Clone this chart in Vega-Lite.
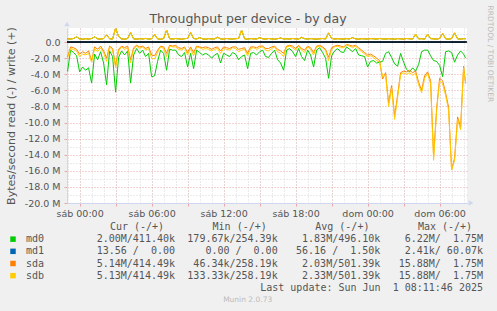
{
  "$schema": "https://vega.github.io/schema/vega-lite/v6.json",
  "width": 400,
  "height": 175,
  "autosize": {"type": "none"},
  "padding": {"left": 67, "top": 28, "right": 30, "bottom": 108},
  "background": "#F0F0F0",
  "title": {"text": "Throughput per device - by day", "font": "DejaVu Sans", "fontSize": 12.5, "fontWeight": "normal", "color": "#555555", "anchor": "middle", "frame": "group", "dx": -19, "dy": 35, "offset": 9, "baseline": "middle"},
  "config": {"view": {"stroke": null, "fill": "#FFFFFF"}},
  "datasets": {
    "perf": [
      {"t":"2025-05-30T22:45:00Z","md0r":-3.9,"md0w":0.42,"md1r":0,"md1w":0,"sdar":-1.9,"sdaw":0.42,"sdbr":-2.1,"sdbw":0.42},
      {"t":"2025-05-30T23:00:00Z","md0r":-3.6,"md0w":0.40,"md1r":0,"md1w":0,"sdar":-1.8,"sdaw":0.40,"sdbr":-2.0,"sdbw":0.40},
      {"t":"2025-05-30T23:15:00Z","md0r":-1.0,"md0w":0.38,"md1r":0,"md1w":0,"sdar":-0.6,"sdaw":0.38,"sdbr":-0.8,"sdbw":0.38},
      {"t":"2025-05-30T23:30:00Z","md0r":-1.3,"md0w":0.45,"md1r":0,"md1w":0,"sdar":-0.7,"sdaw":0.45,"sdbr":-0.9,"sdbw":0.45},
      {"t":"2025-05-30T23:45:00Z","md0r":-1.7,"md0w":0.64,"md1r":0,"md1w":0,"sdar":-0.9,"sdaw":0.66,"sdbr":-1.1,"sdbw":0.66},
      {"t":"2025-05-31T00:00:00Z","md0r":-3.7,"md0w":0.40,"md1r":0,"md1w":0,"sdar":-1.5,"sdaw":0.40,"sdbr":-1.8,"sdbw":0.40},
      {"t":"2025-05-31T00:15:00Z","md0r":-3.1,"md0w":0.36,"md1r":0,"md1w":0,"sdar":-1.2,"sdaw":0.36,"sdbr":-1.5,"sdbw":0.36},
      {"t":"2025-05-31T00:30:00Z","md0r":-3.5,"md0w":0.42,"md1r":0,"md1w":0,"sdar":-1.4,"sdaw":0.42,"sdbr":-1.6,"sdbw":0.42},
      {"t":"2025-05-31T00:45:00Z","md0r":-3.2,"md0w":0.38,"md1r":0,"md1w":0,"sdar":-1.1,"sdaw":0.38,"sdbr":-1.4,"sdbw":0.38},
      {"t":"2025-05-31T01:00:00Z","md0r":-5.1,"md0w":0.44,"md1r":0,"md1w":0,"sdar":-2.3,"sdaw":0.44,"sdbr":-2.5,"sdbw":0.44},
      {"t":"2025-05-31T01:15:00Z","md0r":-1.5,"md0w":0.64,"md1r":0,"md1w":0,"sdar":-0.6,"sdaw":0.66,"sdbr":-0.8,"sdbw":0.66},
      {"t":"2025-05-31T01:30:00Z","md0r":-2.2,"md0w":0.40,"md1r":0,"md1w":0,"sdar":-0.9,"sdaw":0.40,"sdbr":-1.2,"sdbw":0.40},
      {"t":"2025-05-31T01:45:00Z","md0r":-1.2,"md0w":0.37,"md1r":0,"md1w":0,"sdar":-0.5,"sdaw":0.37,"sdbr":-0.7,"sdbw":0.37},
      {"t":"2025-05-31T02:00:00Z","md0r":-2.6,"md0w":0.43,"md1r":0,"md1w":0,"sdar":-1.1,"sdaw":0.43,"sdbr":-1.3,"sdbw":0.43},
      {"t":"2025-05-31T02:15:00Z","md0r":-5.3,"md0w":0.88,"md1r":0,"md1w":0,"sdar":-2.0,"sdaw":0.90,"sdbr":-2.4,"sdbw":0.90},
      {"t":"2025-05-31T02:30:00Z","md0r":-1.1,"md0w":0.41,"md1r":0,"md1w":0,"sdar":-0.5,"sdaw":0.41,"sdbr":-0.6,"sdbw":0.41},
      {"t":"2025-05-31T02:45:00Z","md0r":-1.8,"md0w":0.38,"md1r":0,"md1w":0,"sdar":-0.8,"sdaw":0.38,"sdbr":-1.0,"sdbw":0.38},
      {"t":"2025-05-31T03:00:00Z","md0r":-6.22,"md0w":1.72,"md1r":0,"md1w":0.06,"sdar":-2.9,"sdaw":1.75,"sdbr":-3.2,"sdbw":1.75},
      {"t":"2025-05-31T03:15:00Z","md0r":-1.9,"md0w":0.70,"md1r":0,"md1w":0,"sdar":-0.9,"sdaw":0.70,"sdbr":-1.1,"sdbw":0.70},
      {"t":"2025-05-31T03:30:00Z","md0r":-1.1,"md0w":0.40,"md1r":0,"md1w":0,"sdar":-0.5,"sdaw":0.40,"sdbr":-0.6,"sdbw":0.40},
      {"t":"2025-05-31T03:45:00Z","md0r":-1.6,"md0w":0.36,"md1r":0,"md1w":0,"sdar":-0.7,"sdaw":0.36,"sdbr":-0.9,"sdbw":0.36},
      {"t":"2025-05-31T04:00:00Z","md0r":-1.1,"md0w":0.44,"md1r":0,"md1w":0,"sdar":-0.5,"sdaw":0.44,"sdbr":-0.7,"sdbw":0.44},
      {"t":"2025-05-31T04:15:00Z","md0r":-5.1,"md0w":1.18,"md1r":0,"md1w":0,"sdar":-2.2,"sdaw":1.20,"sdbr":-2.6,"sdbw":1.20},
      {"t":"2025-05-31T04:30:00Z","md0r":-1.6,"md0w":0.40,"md1r":0,"md1w":0,"sdar":-0.7,"sdaw":0.40,"sdbr":-0.9,"sdbw":0.40},
      {"t":"2025-05-31T04:45:00Z","md0r":-0.8,"md0w":0.37,"md1r":0,"md1w":0,"sdar":-0.4,"sdaw":0.37,"sdbr":-0.5,"sdbw":0.37},
      {"t":"2025-05-31T05:00:00Z","md0r":-1.4,"md0w":0.42,"md1r":0,"md1w":0,"sdar":-0.6,"sdaw":0.42,"sdbr":-0.8,"sdbw":0.42},
      {"t":"2025-05-31T05:15:00Z","md0r":-1.0,"md0w":0.39,"md1r":0,"md1w":0,"sdar":-0.5,"sdaw":0.39,"sdbr":-0.6,"sdbw":0.39},
      {"t":"2025-05-31T05:30:00Z","md0r":-1.8,"md0w":0.45,"md1r":0,"md1w":0,"sdar":-0.8,"sdaw":0.45,"sdbr":-1.0,"sdbw":0.45},
      {"t":"2025-05-31T05:45:00Z","md0r":-1.4,"md0w":0.38,"md1r":0,"md1w":0,"sdar":-0.6,"sdaw":0.38,"sdbr":-0.8,"sdbw":0.38},
      {"t":"2025-05-31T06:00:00Z","md0r":-4.3,"md0w":0.41,"md1r":0,"md1w":0,"sdar":-1.6,"sdaw":0.41,"sdbr":-2.0,"sdbw":0.41},
      {"t":"2025-05-31T06:15:00Z","md0r":-4.2,"md0w":0.93,"md1r":0,"md1w":0,"sdar":-1.7,"sdaw":0.95,"sdbr":-2.1,"sdbw":0.95},
      {"t":"2025-05-31T06:30:00Z","md0r":-2.4,"md0w":0.40,"md1r":0,"md1w":0,"sdar":-1.0,"sdaw":0.40,"sdbr":-1.3,"sdbw":0.40},
      {"t":"2025-05-31T06:45:00Z","md0r":-1.0,"md0w":0.36,"md1r":0,"md1w":0,"sdar":-0.5,"sdaw":0.36,"sdbr":-0.6,"sdbw":0.36},
      {"t":"2025-05-31T07:00:00Z","md0r":-1.4,"md0w":0.43,"md1r":0,"md1w":0,"sdar":-0.6,"sdaw":0.43,"sdbr":-0.8,"sdbw":0.43},
      {"t":"2025-05-31T07:15:00Z","md0r":-3.5,"md0w":1.48,"md1r":0,"md1w":0,"sdar":-1.4,"sdaw":1.50,"sdbr":-1.8,"sdbw":1.50},
      {"t":"2025-05-31T07:30:00Z","md0r":-0.9,"md0w":0.42,"md1r":0,"md1w":0,"sdar":-0.4,"sdaw":0.42,"sdbr":-0.5,"sdbw":0.42},
      {"t":"2025-05-31T07:45:00Z","md0r":-1.0,"md0w":0.38,"md1r":0,"md1w":0,"sdar":-0.5,"sdaw":0.38,"sdbr":-0.6,"sdbw":0.38},
      {"t":"2025-05-31T08:00:00Z","md0r":-1.0,"md0w":0.44,"md1r":0,"md1w":0,"sdar":-0.4,"sdaw":0.44,"sdbr":-0.6,"sdbw":0.44},
      {"t":"2025-05-31T08:15:00Z","md0r":-1.6,"md0w":0.40,"md1r":0,"md1w":0,"sdar":-0.7,"sdaw":0.40,"sdbr":-0.9,"sdbw":0.40},
      {"t":"2025-05-31T08:30:00Z","md0r":-1.8,"md0w":0.37,"md1r":0,"md1w":0,"sdar":-0.8,"sdaw":0.37,"sdbr":-1.0,"sdbw":0.37},
      {"t":"2025-05-31T08:45:00Z","md0r":-1.3,"md0w":0.42,"md1r":0,"md1w":0,"sdar":-0.6,"sdaw":0.42,"sdbr":-0.7,"sdbw":0.42},
      {"t":"2025-05-31T09:00:00Z","md0r":-3.1,"md0w":0.46,"md1r":0,"md1w":0,"sdar":-1.3,"sdaw":0.46,"sdbr":-1.6,"sdbw":0.46},
      {"t":"2025-05-31T09:15:00Z","md0r":-1.4,"md0w":1.18,"md1r":0,"md1w":0,"sdar":-0.6,"sdaw":1.20,"sdbr":-0.8,"sdbw":1.20},
      {"t":"2025-05-31T09:30:00Z","md0r":-3.3,"md0w":0.45,"md1r":0,"md1w":0,"sdar":-1.3,"sdaw":0.45,"sdbr":-1.7,"sdbw":0.45},
      {"t":"2025-05-31T09:45:00Z","md0r":-1.0,"md0w":0.38,"md1r":0,"md1w":0,"sdar":-0.5,"sdaw":0.38,"sdbr":-0.6,"sdbw":0.38},
      {"t":"2025-05-31T10:00:00Z","md0r":-1.3,"md0w":0.55,"md1r":0,"md1w":0,"sdar":-0.6,"sdaw":0.55,"sdbr":-0.7,"sdbw":0.55},
      {"t":"2025-05-31T10:15:00Z","md0r":-1.6,"md0w":0.40,"md1r":0,"md1w":0,"sdar":-0.7,"sdaw":0.40,"sdbr":-0.9,"sdbw":0.40},
      {"t":"2025-05-31T10:30:00Z","md0r":-1.4,"md0w":0.36,"md1r":0,"md1w":0,"sdar":-0.6,"sdaw":0.36,"sdbr":-0.8,"sdbw":0.36},
      {"t":"2025-05-31T10:45:00Z","md0r":-1.6,"md0w":0.43,"md1r":0,"md1w":0,"sdar":-0.7,"sdaw":0.43,"sdbr":-0.9,"sdbw":0.43},
      {"t":"2025-05-31T11:00:00Z","md0r":-2.0,"md0w":0.39,"md1r":0,"md1w":0,"sdar":-0.9,"sdaw":0.39,"sdbr":-1.1,"sdbw":0.39},
      {"t":"2025-05-31T11:15:00Z","md0r":-1.6,"md0w":0.41,"md1r":0,"md1w":0,"sdar":-0.7,"sdaw":0.41,"sdbr":-0.9,"sdbw":0.41},
      {"t":"2025-05-31T11:30:00Z","md0r":-1.4,"md0w":0.60,"md1r":0,"md1w":0,"sdar":-0.6,"sdaw":0.60,"sdbr":-0.8,"sdbw":0.60},
      {"t":"2025-05-31T11:45:00Z","md0r":-2.6,"md0w":0.40,"md1r":0,"md1w":0,"sdar":-1.1,"sdaw":0.40,"sdbr":-1.4,"sdbw":0.40},
      {"t":"2025-05-31T12:00:00Z","md0r":-1.4,"md0w":0.37,"md1r":0,"md1w":0,"sdar":-0.6,"sdaw":0.37,"sdbr":-0.8,"sdbw":0.37},
      {"t":"2025-05-31T12:15:00Z","md0r":-1.6,"md0w":0.44,"md1r":0,"md1w":0,"sdar":-0.7,"sdaw":0.44,"sdbr":-0.9,"sdbw":0.44},
      {"t":"2025-05-31T12:30:00Z","md0r":-1.8,"md0w":0.40,"md1r":0,"md1w":0,"sdar":-0.8,"sdaw":0.40,"sdbr":-1.0,"sdbw":0.40},
      {"t":"2025-05-31T12:45:00Z","md0r":-1.3,"md0w":0.38,"md1r":0,"md1w":0,"sdar":-0.6,"sdaw":0.38,"sdbr":-0.7,"sdbw":0.38},
      {"t":"2025-05-31T13:00:00Z","md0r":-1.5,"md0w":0.42,"md1r":0,"md1w":0,"sdar":-0.6,"sdaw":0.42,"sdbr":-0.8,"sdbw":0.42},
      {"t":"2025-05-31T13:15:00Z","md0r":-2.2,"md0w":0.45,"md1r":0,"md1w":0,"sdar":-0.9,"sdaw":0.45,"sdbr":-1.2,"sdbw":0.45},
      {"t":"2025-05-31T13:30:00Z","md0r":-1.8,"md0w":1.48,"md1r":0,"md1w":0,"sdar":-0.8,"sdaw":1.50,"sdbr":-1.0,"sdbw":1.50},
      {"t":"2025-05-31T13:45:00Z","md0r":-1.6,"md0w":0.40,"md1r":0,"md1w":0,"sdar":-0.7,"sdaw":0.40,"sdbr":-0.9,"sdbw":0.40},
      {"t":"2025-05-31T14:00:00Z","md0r":-3.3,"md0w":0.37,"md1r":0,"md1w":0,"sdar":-1.4,"sdaw":0.37,"sdbr":-1.7,"sdbw":0.37},
      {"t":"2025-05-31T14:15:00Z","md0r":-1.4,"md0w":0.43,"md1r":0,"md1w":0,"sdar":-0.6,"sdaw":0.43,"sdbr":-0.8,"sdbw":0.43},
      {"t":"2025-05-31T14:30:00Z","md0r":-1.3,"md0w":0.40,"md1r":0,"md1w":0,"sdar":-0.6,"sdaw":0.40,"sdbr":-0.7,"sdbw":0.40},
      {"t":"2025-05-31T14:45:00Z","md0r":-1.6,"md0w":0.38,"md1r":0,"md1w":0,"sdar":-0.7,"sdaw":0.38,"sdbr":-0.9,"sdbw":0.38},
      {"t":"2025-05-31T15:00:00Z","md0r":-1.2,"md0w":0.55,"md1r":0,"md1w":0,"sdar":-0.5,"sdaw":0.55,"sdbr":-0.7,"sdbw":0.55},
      {"t":"2025-05-31T15:15:00Z","md0r":-1.0,"md0w":0.41,"md1r":0,"md1w":0,"sdar":-0.5,"sdaw":0.41,"sdbr":-0.6,"sdbw":0.41},
      {"t":"2025-05-31T15:30:00Z","md0r":-1.8,"md0w":0.37,"md1r":0,"md1w":0,"sdar":-0.8,"sdaw":0.37,"sdbr":-1.0,"sdbw":0.37},
      {"t":"2025-05-31T15:45:00Z","md0r":-1.9,"md0w":0.44,"md1r":0,"md1w":0,"sdar":-0.8,"sdaw":0.44,"sdbr":-1.1,"sdbw":0.44},
      {"t":"2025-05-31T16:00:00Z","md0r":-1.4,"md0w":0.40,"md1r":0,"md1w":0,"sdar":-0.6,"sdaw":0.40,"sdbr":-0.8,"sdbw":0.40},
      {"t":"2025-05-31T16:15:00Z","md0r":-1.0,"md0w":0.36,"md1r":0,"md1w":0,"sdar":-0.5,"sdaw":0.36,"sdbr":-0.6,"sdbw":0.36},
      {"t":"2025-05-31T16:30:00Z","md0r":-2.2,"md0w":0.42,"md1r":0,"md1w":0,"sdar":-0.9,"sdaw":0.42,"sdbr":-1.2,"sdbw":0.42},
      {"t":"2025-05-31T16:45:00Z","md0r":-2.6,"md0w":0.50,"md1r":0,"md1w":0,"sdar":-1.1,"sdaw":0.50,"sdbr":-1.4,"sdbw":0.50},
      {"t":"2025-05-31T17:00:00Z","md0r":-3.5,"md0w":0.39,"md1r":0,"md1w":0,"sdar":-1.4,"sdaw":0.39,"sdbr":-1.8,"sdbw":0.39},
      {"t":"2025-05-31T17:15:00Z","md0r":-1.0,"md0w":0.41,"md1r":0,"md1w":0,"sdar":-0.5,"sdaw":0.41,"sdbr":-0.6,"sdbw":0.41},
      {"t":"2025-05-31T17:30:00Z","md0r":-0.8,"md0w":0.38,"md1r":0,"md1w":0,"sdar":-0.4,"sdaw":0.38,"sdbr":-0.5,"sdbw":0.38},
      {"t":"2025-05-31T17:45:00Z","md0r":-1.2,"md0w":0.44,"md1r":0,"md1w":0,"sdar":-0.5,"sdaw":0.44,"sdbr":-0.7,"sdbw":0.44},
      {"t":"2025-05-31T18:00:00Z","md0r":-1.8,"md0w":0.40,"md1r":0,"md1w":0,"sdar":-0.8,"sdaw":0.40,"sdbr":-1.0,"sdbw":0.40},
      {"t":"2025-05-31T18:15:00Z","md0r":-0.8,"md0w":0.37,"md1r":0,"md1w":0,"sdar":-0.4,"sdaw":0.37,"sdbr":-0.5,"sdbw":0.37},
      {"t":"2025-05-31T18:30:00Z","md0r":-1.8,"md0w":0.58,"md1r":0,"md1w":0,"sdar":-0.8,"sdaw":0.60,"sdbr":-1.0,"sdbw":0.60},
      {"t":"2025-05-31T18:45:00Z","md0r":-2.3,"md0w":0.42,"md1r":0,"md1w":0,"sdar":-1.0,"sdaw":0.42,"sdbr":-1.3,"sdbw":0.42},
      {"t":"2025-05-31T19:00:00Z","md0r":-1.0,"md0w":0.38,"md1r":0,"md1w":0,"sdar":-0.5,"sdaw":0.38,"sdbr":-0.6,"sdbw":0.38},
      {"t":"2025-05-31T19:15:00Z","md0r":-1.6,"md0w":0.43,"md1r":0,"md1w":0,"sdar":-0.7,"sdaw":0.43,"sdbr":-0.9,"sdbw":0.43},
      {"t":"2025-05-31T19:30:00Z","md0r":-3.1,"md0w":0.40,"md1r":0,"md1w":0,"sdar":-1.3,"sdaw":0.40,"sdbr":-1.6,"sdbw":0.40},
      {"t":"2025-05-31T19:45:00Z","md0r":-1.0,"md0w":0.36,"md1r":0,"md1w":0,"sdar":-0.5,"sdaw":0.36,"sdbr":-0.6,"sdbw":0.36},
      {"t":"2025-05-31T20:00:00Z","md0r":-0.7,"md0w":0.41,"md1r":0,"md1w":0,"sdar":-0.4,"sdaw":0.41,"sdbr":-0.5,"sdbw":0.41},
      {"t":"2025-05-31T20:15:00Z","md0r":-1.3,"md0w":0.44,"md1r":0,"md1w":0,"sdar":-0.6,"sdaw":0.44,"sdbr":-0.7,"sdbw":0.44},
      {"t":"2025-05-31T20:30:00Z","md0r":-2.0,"md0w":0.39,"md1r":0,"md1w":0,"sdar":-0.9,"sdaw":0.39,"sdbr":-1.1,"sdbw":0.39},
      {"t":"2025-05-31T20:45:00Z","md0r":-4.5,"md0w":1.13,"md1r":0,"md1w":0,"sdar":-1.9,"sdaw":1.15,"sdbr":-2.3,"sdbw":1.15},
      {"t":"2025-05-31T21:00:00Z","md0r":-1.7,"md0w":0.45,"md1r":0,"md1w":0,"sdar":-0.7,"sdaw":0.45,"sdbr":-0.9,"sdbw":0.45},
      {"t":"2025-05-31T21:15:00Z","md0r":-1.1,"md0w":0.38,"md1r":0,"md1w":0,"sdar":-0.5,"sdaw":0.38,"sdbr":-0.6,"sdbw":0.38},
      {"t":"2025-05-31T21:30:00Z","md0r":-0.8,"md0w":0.42,"md1r":0,"md1w":0,"sdar":-0.4,"sdaw":0.42,"sdbr":-0.5,"sdbw":0.42},
      {"t":"2025-05-31T21:45:00Z","md0r":-1.2,"md0w":0.40,"md1r":0,"md1w":0,"sdar":-0.5,"sdaw":0.40,"sdbr":-0.7,"sdbw":0.40},
      {"t":"2025-05-31T22:00:00Z","md0r":-1.3,"md0w":0.37,"md1r":0,"md1w":0,"sdar":-0.6,"sdaw":0.37,"sdbr":-0.7,"sdbw":0.37},
      {"t":"2025-05-31T22:15:00Z","md0r":-0.6,"md0w":0.43,"md1r":0,"md1w":0,"sdar":-0.3,"sdaw":0.43,"sdbr":-0.4,"sdbw":0.43},
      {"t":"2025-05-31T22:30:00Z","md0r":-0.9,"md0w":0.39,"md1r":0,"md1w":0,"sdar":-0.4,"sdaw":0.39,"sdbr":-0.5,"sdbw":0.39},
      {"t":"2025-05-31T22:45:00Z","md0r":-1.2,"md0w":0.55,"md1r":0,"md1w":0,"sdar":-0.5,"sdaw":0.55,"sdbr":-0.7,"sdbw":0.55},
      {"t":"2025-05-31T23:00:00Z","md0r":-0.8,"md0w":0.40,"md1r":0,"md1w":0,"sdar":-0.4,"sdaw":0.40,"sdbr":-0.5,"sdbw":0.40},
      {"t":"2025-05-31T23:15:00Z","md0r":-1.6,"md0w":0.36,"md1r":0,"md1w":0,"sdar":-0.7,"sdaw":0.36,"sdbr":-0.9,"sdbw":0.36},
      {"t":"2025-05-31T23:30:00Z","md0r":-1.7,"md0w":0.42,"md1r":0,"md1w":0,"sdar":-1.0,"sdaw":0.42,"sdbr":-1.2,"sdbw":0.42},
      {"t":"2025-05-31T23:45:00Z","md0r":-1.8,"md0w":0.40,"md1r":0,"md1w":0,"sdar":-1.3,"sdaw":0.40,"sdbr":-1.5,"sdbw":0.40},
      {"t":"2025-06-01T00:00:00Z","md0r":-3.1,"md0w":0.38,"md1r":0,"md1w":0,"sdar":-1.6,"sdaw":0.38,"sdbr":-1.8,"sdbw":0.38},
      {"t":"2025-06-01T00:15:00Z","md0r":-2.4,"md0w":0.43,"md1r":0,"md1w":0,"sdar":-1.5,"sdaw":0.43,"sdbr":-1.7,"sdbw":0.43},
      {"t":"2025-06-01T00:30:00Z","md0r":-2.3,"md0w":0.41,"md1r":0,"md1w":0,"sdar":-1.7,"sdaw":0.41,"sdbr":-1.9,"sdbw":0.41},
      {"t":"2025-06-01T00:45:00Z","md0r":-2.6,"md0w":0.37,"md1r":0,"md1w":0,"sdar":-2.0,"sdaw":0.37,"sdbr":-2.3,"sdbw":0.37},
      {"t":"2025-06-01T01:00:00Z","md0r":-2.5,"md0w":0.44,"md1r":0,"md1w":0,"sdar":-2.3,"sdaw":0.44,"sdbr":-2.5,"sdbw":0.44},
      {"t":"2025-06-01T01:15:00Z","md0r":-2.4,"md0w":0.40,"md1r":0,"md1w":0,"sdar":-4.6,"sdaw":0.40,"sdbr":-4.3,"sdbw":0.40},
      {"t":"2025-06-01T01:30:00Z","md0r":-1.4,"md0w":0.38,"md1r":0,"md1w":0,"sdar":-3.8,"sdaw":0.38,"sdbr":-4.1,"sdbw":0.38},
      {"t":"2025-06-01T01:45:00Z","md0r":-1.2,"md0w":0.42,"md1r":0,"md1w":0,"sdar":-7.6,"sdaw":0.42,"sdbr":-8.0,"sdbw":0.42},
      {"t":"2025-06-01T02:00:00Z","md0r":-1.9,"md0w":0.39,"md1r":0,"md1w":0,"sdar":-5.4,"sdaw":0.39,"sdbr":-5.7,"sdbw":0.39},
      {"t":"2025-06-01T02:15:00Z","md0r":-2.7,"md0w":0.36,"md1r":0,"md1w":0,"sdar":-9.2,"sdaw":0.36,"sdbr":-9.6,"sdbw":0.36},
      {"t":"2025-06-01T02:30:00Z","md0r":-3.0,"md0w":0.43,"md1r":0,"md1w":0,"sdar":-6.6,"sdaw":0.43,"sdbr":-6.9,"sdbw":0.43},
      {"t":"2025-06-01T02:45:00Z","md0r":-1.4,"md0w":0.40,"md1r":0,"md1w":0,"sdar":-3.8,"sdaw":0.40,"sdbr":-4.0,"sdbw":0.40},
      {"t":"2025-06-01T03:00:00Z","md0r":-2.5,"md0w":0.37,"md1r":0,"md1w":0,"sdar":-3.6,"sdaw":0.37,"sdbr":-3.8,"sdbw":0.37},
      {"t":"2025-06-01T03:15:00Z","md0r":-3.4,"md0w":0.44,"md1r":0,"md1w":0,"sdar":-3.7,"sdaw":0.44,"sdbr":-4.0,"sdbw":0.44},
      {"t":"2025-06-01T03:30:00Z","md0r":-3.7,"md0w":0.41,"md1r":0,"md1w":0,"sdar":-3.5,"sdaw":0.41,"sdbr":-3.8,"sdbw":0.41},
      {"t":"2025-06-01T03:45:00Z","md0r":-3.2,"md0w":0.38,"md1r":0,"md1w":0,"sdar":-3.8,"sdaw":0.38,"sdbr":-4.1,"sdbw":0.38},
      {"t":"2025-06-01T04:00:00Z","md0r":-3.6,"md0w":0.98,"md1r":0,"md1w":0,"sdar":-3.6,"sdaw":1.00,"sdbr":-3.9,"sdbw":1.00},
      {"t":"2025-06-01T04:15:00Z","md0r":-2.8,"md0w":0.40,"md1r":0,"md1w":0,"sdar":-5.0,"sdaw":0.40,"sdbr":-5.3,"sdbw":0.40},
      {"t":"2025-06-01T04:30:00Z","md0r":-1.2,"md0w":0.42,"md1r":0,"md1w":0,"sdar":-6.0,"sdaw":0.42,"sdbr":-6.3,"sdbw":0.42},
      {"t":"2025-06-01T04:45:00Z","md0r":-1.0,"md0w":0.37,"md1r":0,"md1w":0,"sdar":-4.2,"sdaw":0.37,"sdbr":-4.5,"sdbw":0.37},
      {"t":"2025-06-01T05:00:00Z","md0r":-1.0,"md0w":0.98,"md1r":0,"md1w":0,"sdar":-3.7,"sdaw":1.00,"sdbr":-3.9,"sdbw":1.00},
      {"t":"2025-06-01T05:15:00Z","md0r":-1.7,"md0w":0.43,"md1r":0,"md1w":0,"sdar":-4.8,"sdaw":0.43,"sdbr":-5.2,"sdbw":0.43},
      {"t":"2025-06-01T05:30:00Z","md0r":-2.3,"md0w":0.40,"md1r":0,"md1w":0,"sdar":-14.2,"sdaw":0.40,"sdbr":-14.7,"sdbw":0.40},
      {"t":"2025-06-01T05:45:00Z","md0r":-2.4,"md0w":0.38,"md1r":0,"md1w":0,"sdar":-8.3,"sdaw":0.38,"sdbr":-8.6,"sdbw":0.38},
      {"t":"2025-06-01T06:00:00Z","md0r":-2.9,"md0w":0.44,"md1r":0,"md1w":0,"sdar":-4.5,"sdaw":0.44,"sdbr":-4.8,"sdbw":0.44},
      {"t":"2025-06-01T06:15:00Z","md0r":-4.3,"md0w":1.08,"md1r":0,"md1w":0,"sdar":-4.8,"sdaw":1.10,"sdbr":-5.2,"sdbw":1.10},
      {"t":"2025-06-01T06:30:00Z","md0r":-1.2,"md0w":0.41,"md1r":0,"md1w":0,"sdar":-6.3,"sdaw":0.41,"sdbr":-6.6,"sdbw":0.41},
      {"t":"2025-06-01T06:45:00Z","md0r":-1.1,"md0w":0.37,"md1r":0,"md1w":0,"sdar":-8.1,"sdaw":0.37,"sdbr":-8.5,"sdbw":0.37},
      {"t":"2025-06-01T07:00:00Z","md0r":-1.3,"md0w":0.43,"md1r":0,"md1w":0,"sdar":-15.88,"sdaw":0.43,"sdbr":-15.88,"sdbw":0.43},
      {"t":"2025-06-01T07:15:00Z","md0r":-2.5,"md0w":1.13,"md1r":0,"md1w":0,"sdar":-14.4,"sdaw":1.15,"sdbr":-14.7,"sdbw":1.15},
      {"t":"2025-06-01T07:30:00Z","md0r":-1.6,"md0w":0.40,"md1r":0,"md1w":0,"sdar":-9.3,"sdaw":0.40,"sdbr":-9.6,"sdbw":0.40},
      {"t":"2025-06-01T07:45:00Z","md0r":-1.1,"md0w":0.38,"md1r":0,"md1w":0,"sdar":-10.6,"sdaw":0.38,"sdbr":-10.9,"sdbw":0.38},
      {"t":"2025-06-01T08:00:00Z","md0r":-1.5,"md0w":0.42,"md1r":0,"md1w":0,"sdar":-3.0,"sdaw":0.42,"sdbr":-3.2,"sdbw":0.42},
      {"t":"2025-06-01T08:10:00Z","md0r":-2.0,"md0w":0.41,"md1r":0,"md1w":0,"sdar":-5.14,"sdaw":0.41,"sdbr":-5.13,"sdbw":0.41}
    ],
    "cells": [
      {"row":"md0","col":"Cur","text":"2.00M/411.40k"},
      {"row":"md0","col":"Min","text":"179.67k/254.39k"},
      {"row":"md0","col":"Avg","text":"1.83M/496.10k"},
      {"row":"md0","col":"Max","text":"6.22M/\u00a0\u00a01.75M"},
      {"row":"md1","col":"Cur","text":"13.56\u00a0/\u00a0\u00a00.00\u00a0"},
      {"row":"md1","col":"Min","text":"0.00\u00a0/\u00a0\u00a00.00\u00a0"},
      {"row":"md1","col":"Avg","text":"56.16\u00a0/\u00a0\u00a01.50k"},
      {"row":"md1","col":"Max","text":"2.41k/\u00a060.07k"},
      {"row":"sda","col":"Cur","text":"5.14M/414.49k"},
      {"row":"sda","col":"Min","text":"46.34k/258.19k"},
      {"row":"sda","col":"Avg","text":"2.03M/501.39k"},
      {"row":"sda","col":"Max","text":"15.88M/\u00a0\u00a01.75M"},
      {"row":"sdb","col":"Cur","text":"5.13M/414.49k"},
      {"row":"sdb","col":"Min","text":"133.33k/258.19k"},
      {"row":"sdb","col":"Avg","text":"2.33M/501.39k"},
      {"row":"sdb","col":"Max","text":"15.88M/\u00a0\u00a01.75M"},
      {"row":"upd","col":"Max","text":"Last update: Sun Jun\u00a0\u00a01 08:11:46 2025"}
    ],
    "heads": [
      {"col":"Cur","text":"Cur (-/+)"},
      {"col":"Min","text":"Min (-/+)"},
      {"col":"Avg","text":"Avg (-/+)"},
      {"col":"Max","text":"Max (-/+)"}
    ],
    "series": [
      {"row":"md0"},
      {"row":"md1"},
      {"row":"sda"},
      {"row":"sdb"}
    ],
    "one": [{"text": "Munin 2.0.73"}]
  },
  "layer": [
    {
      "data": {"name": "perf"},
      "transform": [{"fold": ["md0r","md0w","md1r","md1w","sdar","sdaw","sdbr","sdbw"], "as": ["k","v"]}],
      "mark": {"type": "line", "strokeWidth": 1, "clip": true},
      "encoding": {
        "x": {"field": "t", "type": "temporal",
          "scale": {"type": "utc", "nice": false, "domain": [1748645820000, 1748765820000]},
          "axis": {"orient": "bottom", "title": null, "values": [1748649600000,1748660400000,1748671200000,1748682000000,1748692800000,1748703600000,1748714400000,1748725200000,1748736000000,1748746800000,1748757600000], "grid": true, "gridColor": "#E8A6A6", "gridDash": [1,2], "gridOpacity": 1, "ticks": true, "tickColor": "#E8A6A6", "tickSize": 3, "domainColor": "#CFD6F0", "labelExpr": "utchours(datum.value) % 6 == 0 ? (utcday(datum.value) == 6 ? 'sáb' : 'dom') + ' ' + utcFormat(datum.value, '%H:%M') : ''", "labelFont": "DejaVu Sans", "labelFontSize": 9.5, "labelColor": "#555555", "labelPadding": 2, "labelOverlap": false, "labelFlush": false}},
        "y": {"field": "v", "type": "quantitative",
          "scale": {"domain": [-20, 1.75], "nice": false, "zero": false},
          "axis": {"orient": "left", "values": [-20,-18,-16,-14,-12,-10,-8,-6,-4,-2,0], "grid": true, "gridColor": "#E8A6A6", "gridDash": [1,2], "gridOpacity": 1, "ticks": true, "tickColor": "#E8A6A6", "tickSize": 3, "domainColor": "#CFD6F0", "labelExpr": "datum.value == 0 ? '0.0' : (datum.value < 0 ? '-' : '') + format(abs(datum.value), '.1f') + ' M'", "labelFont": "DejaVu Sans", "labelFontSize": 9.5, "labelColor": "#555555", "labelPadding": 4, "title": "Bytes/second read (-) / write (+)", "titleFont": "DejaVu Sans", "titleFontSize": 11, "titleFontWeight": "normal", "titleColor": "#555555", "titleAngle": -90, "titleX": -56, "titleY": 87.5, "titleAlign": "center", "titleBaseline": "middle"}},
        "color": {"field": "k", "type": "nominal", "legend": null,
          "scale": {"domain": ["md0r","md0w","md1r","md1w","sdar","sdaw","sdbr","sdbw"], "range": ["#00CC00","#00CC00","#0066B3","#0066B3","#FF8000","#FF8000","#FFCC00","#FFCC00"]}}
      }
    },
    {
      "data": {"name": "one"},
      "mark": {"type": "rule", "color": "#000000", "strokeWidth": 1.5},
      "encoding": {
        "y": {"datum": 0, "type": "quantitative", "scale": {"domain": [-20, 1.75], "nice": false, "zero": false}, "axis": null}
      }
    },
    {
      "data": {"name": "one"},
      "mark": {"type": "point", "shape": "triangle-up", "filled": true, "size": 30, "color": "#CFD6F0", "opacity": 1, "yOffset": -4, "clip": false},
      "encoding": {
        "x": {"datum": 1748645820000, "type": "temporal",
          "scale": {"type": "utc", "nice": false, "domain": [1748645820000, 1748765820000]},
          "axis": {"orient": "top", "title": null, "values": [1748646000000,1748649600000,1748653200000,1748656800000,1748660400000,1748664000000,1748667600000,1748671200000,1748674800000,1748678400000,1748682000000,1748685600000,1748689200000,1748692800000,1748696400000,1748700000000,1748703600000,1748707200000,1748710800000,1748714400000,1748718000000,1748721600000,1748725200000,1748728800000,1748732400000,1748736000000,1748739600000,1748743200000,1748746800000,1748750400000,1748754000000,1748757600000,1748761200000,1748764800000], "grid": true, "gridColor": "#D6D6D6", "gridDash": [1,2], "gridOpacity": 1, "ticks": false, "labels": false, "domain": false}},
        "y": {"datum": 1.75, "type": "quantitative",
          "scale": {"domain": [-20, 1.75], "nice": false, "zero": false},
          "axis": {"orient": "right", "values": [-19,-17,-15,-13,-11,-9,-7,-5,-3,-1,1], "grid": true, "gridColor": "#D6D6D6", "gridDash": [1,2], "gridOpacity": 1, "ticks": false, "labels": false, "domain": false, "title": "RRDTOOL / TOBI OETIKER", "titleFont": "DejaVu Sans", "titleFontSize": 7.5, "titleFontWeight": "normal", "titleColor": "#BBBBBB", "titleAngle": 90, "titleX": 22, "titleY": -23, "titleAlign": "left", "titleBaseline": "middle"}}
      }
    },
    {
      "data": {"name": "one"},
      "mark": {"type": "point", "shape": "triangle-right", "filled": true, "size": 30, "color": "#CFD6F0", "opacity": 1, "xOffset": 4, "clip": false},
      "encoding": {
        "x": {"datum": 1748765820000, "type": "temporal",
          "scale": {"type": "utc", "nice": false, "domain": [1748645820000, 1748765820000]}, "axis": null},
        "y": {"datum": -20, "type": "quantitative", "scale": {"domain": [-20, 1.75], "nice": false, "zero": false}, "axis": null}
      }
    },
    {
      "data": {"name": "cells"},
      "mark": {"type": "text", "font": "DejaVu Sans Mono", "fontSize": 10, "align": "right", "baseline": "middle", "color": "#555555"},
      "encoding": {
        "x": {"field": "col", "type": "nominal", "scale": {"type": "point", "domain": ["Cur","Min","Avg","Max"], "range": [108, 416], "padding": 0}, "axis": null},
        "y": {"field": "row", "type": "nominal", "scale": {"type": "point", "domain": ["hdr","md0","md1","sda","sdb","upd","munin"], "range": [199, 272], "padding": 0}, "axis": null},
        "text": {"field": "text"}
      }
    },
    {
      "data": {"name": "heads"},
      "mark": {"type": "text", "font": "DejaVu Sans Mono", "fontSize": 10, "align": "center", "baseline": "middle", "color": "#555555", "dx": -38},
      "encoding": {
        "x": {"field": "col", "type": "nominal", "scale": {"type": "point", "domain": ["Cur","Min","Avg","Max"], "range": [108, 416], "padding": 0}, "axis": null},
        "y": {"datum": "hdr", "type": "nominal", "scale": {"type": "point", "domain": ["hdr","md0","md1","sda","sdb","upd","munin"], "range": [199, 272], "padding": 0}, "axis": null},
        "text": {"field": "text"}
      }
    },
    {
      "data": {"name": "series"},
      "mark": {"type": "text", "font": "DejaVu Sans Mono", "fontSize": 10, "align": "left", "baseline": "middle", "color": "#555555"},
      "encoding": {
        "x": {"datum": "name", "type": "nominal", "scale": {"type": "point", "domain": ["sw","name"], "range": [-54, -41], "padding": 0}, "axis": null},
        "y": {"field": "row", "type": "nominal", "scale": {"type": "point", "domain": ["hdr","md0","md1","sda","sdb","upd","munin"], "range": [199, 272], "padding": 0}, "axis": null},
        "text": {"field": "row"}
      }
    },
    {
      "data": {"name": "series"},
      "mark": {"type": "point", "shape": "square", "filled": true, "size": 30, "opacity": 1},
      "encoding": {
        "x": {"datum": "sw", "type": "nominal", "scale": {"type": "point", "domain": ["sw","name"], "range": [-54, -41], "padding": 0}, "axis": null},
        "y": {"field": "row", "type": "nominal", "scale": {"type": "point", "domain": ["hdr","md0","md1","sda","sdb","upd","munin"], "range": [199, 272], "padding": 0}, "axis": null},
        "color": {"field": "row", "type": "nominal", "legend": null, "scale": {"domain": ["md0","md1","sda","sdb"], "range": ["#00CC00","#0066B3","#FF8000","#FFCC00"]}}
      }
    },
    {
      "data": {"name": "one"},
      "mark": {"type": "text", "font": "DejaVu Sans", "fontSize": 7.5, "align": "center", "baseline": "middle", "color": "#BBBBBB", "dx": -30},
      "encoding": {
        "x": {"datum": "Min", "type": "nominal", "scale": {"type": "point", "domain": ["Cur","Min","Avg","Max"], "range": [108, 416], "padding": 0}, "axis": null},
        "y": {"datum": "munin", "type": "nominal", "scale": {"type": "point", "domain": ["hdr","md0","md1","sda","sdb","upd","munin"], "range": [199, 272], "padding": 0}, "axis": null},
        "text": {"field": "text"}
      }
    }
  ],
  "resolve": {"scale": {"x": "independent", "y": "independent", "color": "independent"}}
}
